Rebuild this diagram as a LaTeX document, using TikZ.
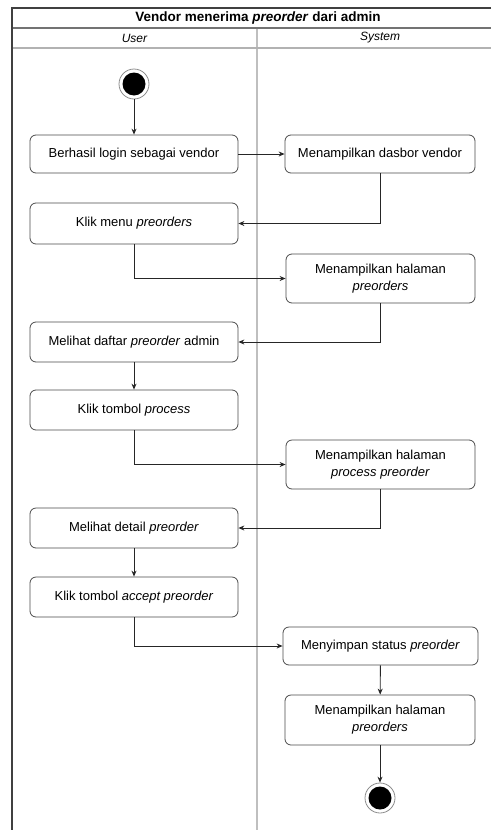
\documentclass[tikz,border=0pt]{standalone}
\usepackage{fontspec}
\setmainfont{Liberation Sans}
\usetikzlibrary{arrows.meta}
\begin{document}
\begin{tikzpicture}[x=1pt,y=-1pt,
  act/.style={draw=black!70, line width=0.8pt, rounded corners=6pt, fill=white,
    align=center, inner sep=2pt, font=\fontsize{13}{17}\selectfont},
  lwide/.style={act, minimum width=208pt, minimum height=40pt},
  rwide/.style={act, minimum width=189pt},
  flow/.style={draw=black!85, line width=0.9pt, -{Stealth[length=6pt,width=5pt]}},
  lane/.style={draw=black!25, line width=1.6pt},
  ring/.style={circle, draw=black!45, line width=0.8pt, fill=white, minimum size=30pt, inner sep=0pt},
  dot/.style={circle, fill=black, minimum size=23pt, inner sep=0pt},
  hdr/.style={font=\fontsize{12}{14}\selectfont\itshape}
]
\useasboundingbox (0,0) rectangle (491,830);
\fill[white] (0,0) rectangle (491,830);

% pool frame and lane headers
\draw[lane] (257,28) -- (257,830);
\draw[draw=black!30, line width=1.2pt] (12,48) -- (491,48);
\draw[draw=black!55, line width=1.2pt] (12,28) -- (491,28);
\draw[draw=black!75, line width=1.6pt] (491,8) -- (12,8) -- (12,830);

\node[font=\fontsize{13.5}{16}\selectfont\bfseries] (title) at (258,18)
  {Vendor menerima \textit{preorder} dari admin};
\node[hdr] (lane1) at (134.5,38) {User};
\node[hdr] (lane2) at (380,38) {System};

% start and end
\node[ring] (startring) at (134,84) {};
\node[dot] (start) at (134,84) {};
\node[ring] (endring) at (380,798) {};
\node[dot] (finish) at (380,798) {};

% user actions
\node[lwide, minimum height=38pt] (b1) at (134,154) {Berhasil login sebagai vendor};
\node[lwide, minimum height=41pt] (b2) at (134,223.5) {Klik menu \textit{preorders}};
\node[lwide] (b3) at (134,342) {Melihat daftar \textit{preorder} admin};
\node[lwide] (b4) at (134,410) {Klik tombol \textit{process}};
\node[lwide] (b5) at (134,528) {Melihat detail \textit{preorder}};
\node[lwide] (b6) at (134,597) {Klik tombol \textit{accept preorder}};

% system actions
\node[rwide, minimum width=190pt, minimum height=38pt] (s1) at (380,154) {Menampilkan dasbor vendor};
\node[rwide, minimum height=49pt] (s2) at (380.5,278.5) {Menampilkan halaman\\\textit{preorders}};
\node[rwide, minimum height=49pt] (s3) at (380.5,464.5) {Menampilkan halaman\\\textit{process preorder}};
\node[rwide, minimum width=195pt, minimum height=38pt] (s4) at (380.5,646) {Menyimpan status \textit{preorder}};
\node[rwide, minimum width=190pt, minimum height=50pt] (s5) at (380,720) {Menampilkan halaman\\\textit{preorders}};

% control flow
\draw[flow] (startring) -- (b1);
\draw[flow] (b1) -- (s1);
\draw[flow] (s1.south) |- (b2.east);
\draw[flow] (b2.south) |- (s2.west);
\draw[flow] (s2.south) |- (b3.east);
\draw[flow] (b3) -- (b4);
\draw[flow] (b4.south) |- (s3.west);
\draw[flow] (s3.south) |- (b5.east);
\draw[flow] (b5) -- (b6);
\draw[flow] (b6.south) |- (s4.west);
\draw[flow] (s4) -- (s5);
\draw[flow] (s5) -- (endring);
\end{tikzpicture}
\end{document}
